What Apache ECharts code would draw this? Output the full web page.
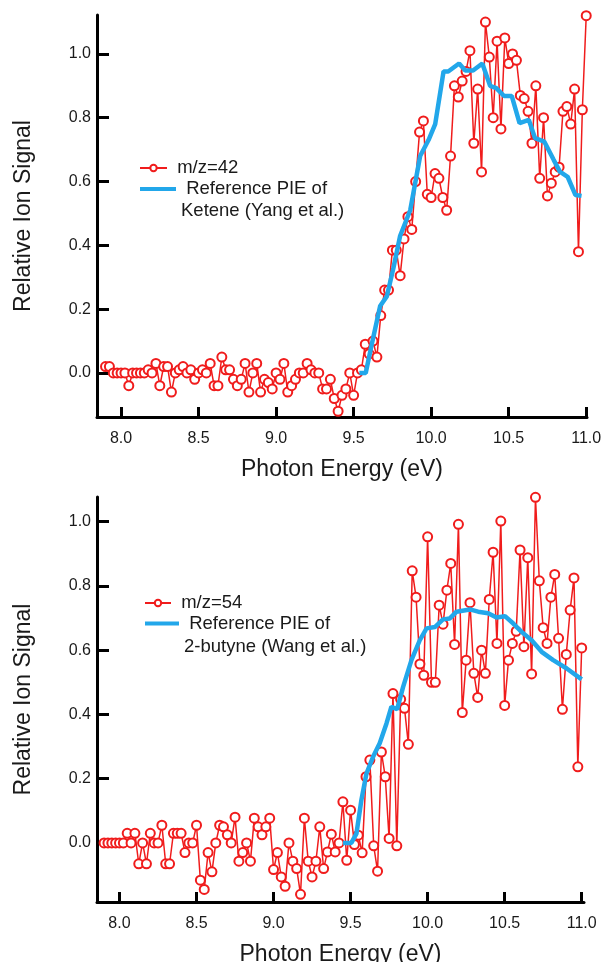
<!DOCTYPE html>
<html>
<head>
<meta charset="utf-8">
<title>Relative Ion Signal</title>
<script src="https://cdn.jsdelivr.net/npm/echarts@6.0.0/dist/echarts.min.js"></script>
<style>
html, body { margin: 0; padding: 0; background: #fff; }
#chart { width: 603px; height: 962px; }
</style>
</head>
<body>
<div id="chart"></div>
<script>
// photon energy scan: first point and step (eV)
const scanStart = 7.9
const scanStep = 0.025

const xTicks = [8.0, 8.5, 9.0, 9.5, 10.0, 10.5, 11.0]
const yTicks = [0.0, 0.2, 0.4, 0.6, 0.8, 1.0]

// m/z=42, one value per scan point
const mz42 = [
	0.02, 0.02, 0, 0, 0, 0, -0.04, 0, 0,
	0, 0, 0.01, 0, 0.03, -0.04, 0.02, 0.02, -0.06, 0, 0.01, 0.02, 0, 0.01, -0.02, 0, 0.01, 0, 0.03, -0.04,
	-0.04, 0.05, 0.01, 0.01, -0.02, -0.04, -0.02, 0.03, -0.06, 0, 0.03, -0.06, -0.02, -0.03, -0.05, 0,
	-0.02, 0.03, -0.06, -0.04, -0.02, 0, 0, 0.03, 0.01, 0, 0, -0.05, -0.05, -0.02, -0.08,
	-0.12, -0.07, -0.05, 0, -0.07, 0, 0.01, 0.09, 0.06, 0.10, 0.05, 0.18, 0.26, 0.26, 0.385, 0.385,
	0.305, 0.42, 0.49, 0.45, 0.60, 0.755, 0.79, 0.56, 0.55, 0.625, 0.61, 0.55, 0.51, 0.68, 0.90, 0.865,
	0.915, 0.945, 1.01, 0.72, 0.89, 0.63, 1.10, 0.99, 0.80, 1.04, 0.765, 1.05, 0.97, 1.0, 0.98, 0.87,
	0.86, 0.82, 0.72, 0.90, 0.61, 0.80, 0.555, 0.595, 0.63, 0.645, 0.82, 0.835, 0.78, 0.89, 0.38, 0.825, 1.12
]

// reference PIE of ketene (Yang et al.)
const keteneEnergy = [9.537, 9.578, 9.617, 9.671, 9.714, 9.757, 9.8, 9.865, 9.929, 9.983, 10.026, 10.08, 10.11, 10.18, 10.22,
	10.27, 10.33, 10.38, 10.42, 10.47, 10.52, 10.57, 10.63, 10.67, 10.73, 10.79, 10.83, 10.88, 10.93, 10.97]
const keteneSignal = [0, 0, 0.09, 0.21, 0.24, 0.33, 0.43, 0.51, 0.68, 0.73, 0.78, 0.945, 0.945, 0.97, 0.948,
	0.948, 0.97, 0.9, 0.893, 0.868, 0.868, 0.783, 0.793, 0.736, 0.725, 0.668, 0.631, 0.615, 0.558, 0.555]

// m/z=54, one value per scan point
const mz54 = [
	0, 0, 0, 0, 0, 0,
	0.03, 0, 0.03, -0.065, 0, -0.065, 0.03, 0, 0, 0.055, -0.065, -0.065, 0.03, 0.03, 0.03, -0.03, 0, 0,
	0.055, -0.116, -0.145, -0.03, -0.09, 0, 0.055, 0.05, 0.025, 0, 0.08, -0.057, -0.03, 0, -0.057, 0.077,
	0.05, 0.025, 0.05, 0.077, -0.083, -0.03, -0.106, -0.135, 0, -0.057, -0.08, -0.16, 0.077, -0.057, -0.106,
	-0.057, 0.05,
	-0.08, -0.028, 0.027, -0.028, 0, 0.128, -0.054, 0.102, -0.005, 0.024, -0.031, 0.206, 0.258, -0.009,
	-0.088, 0.283, 0.206, 0.014, 0.465, -0.009, 0.447, 0.419, 0.307, 0.847, 0.765, 0.557, 0.522, 0.953,
	0.5, 0.5, 0.74, 0.681, 0.787, 0.87, 0.618, 0.992, 0.406, 0.569, 0.748, 0.528, 0.453, 0.6, 0.528,
	0.758, 0.905, 0.621, 1.002, 0.428, 0.569, 0.621, 0.659, 0.912, 0.611, 0.888, 0.526, 1.076, 0.816,
	0.67, 0.621, 0.765, 0.836, 0.637, 0.416, 0.587, 0.725, 0.825, 0.237, 0.607
]

// reference PIE of 2-butyne (Wang et al.)
const butyneEnergy = [9.451, 9.505, 9.538, 9.57, 9.603, 9.646, 9.689, 9.733, 9.765, 9.802, 9.841, 9.895, 9.949, 9.993, 10.047,
	10.1, 10.144, 10.188, 10.274, 10.328, 10.393, 10.447, 10.502, 10.556, 10.61, 10.675, 10.74, 10.815, 10.903, 11.0]
const butyneSignal = [0, 0, 0.029, 0.133, 0.216, 0.268, 0.31, 0.372, 0.424, 0.416, 0.486, 0.569, 0.631, 0.668, 0.672,
	0.696, 0.699, 0.72, 0.727, 0.72, 0.715, 0.702, 0.706, 0.683, 0.657, 0.631, 0.595, 0.569, 0.543, 0.509]

const font = "'Liberation Sans', Arial, sans-serif"
const ink = "#1a1a1a"
const red = "#f01c1c"
const blue = "#22a7ea"

const keteneName = "Reference PIE of Ketene (Yang et al.)"
const butyneName = "Reference PIE of 2-butyne (Wang et al.)"

const scanPoints = values => values.map((v, i) => [+(scanStart + i * scanStep).toFixed(3), v])
const pairs = (xs, ys) => xs.map((x, i) => [x, ys[i]])

const xAxisFor = (gridIndex, min, max) => ({
	type: "value",
	gridIndex: gridIndex,
	min: min,
	max: max,
	name: "Photon Energy (eV)",
	nameLocation: "middle",
	nameGap: 41,
	nameTextStyle: { fontFamily: font, fontSize: 23, color: ink },
	axisLine: { show: true, onZero: false, lineStyle: { color: "#000", width: 3 } },
	axisTick: { show: true, inside: true, length: 10, customValues: xTicks, lineStyle: { color: "#000", width: 3 } },
	axisLabel: { customValues: xTicks, margin: 14, fontFamily: font, fontSize: 16, color: ink, formatter: v => v.toFixed(1) },
	splitLine: { show: false }
})

const yAxisFor = (gridIndex, min, max) => ({
	type: "value",
	gridIndex: gridIndex,
	min: min,
	max: max,
	name: "Relative Ion Signal",
	nameLocation: "middle",
	nameRotate: 90,
	nameGap: 62,
	nameTextStyle: { fontFamily: font, fontSize: 23, color: ink },
	axisLine: { show: true, onZero: false, lineStyle: { color: "#000", width: 3 } },
	axisTick: { show: true, inside: true, length: 12, customValues: yTicks, lineStyle: { color: "#000", width: 3 } },
	axisLabel: { customValues: yTicks, margin: 6, fontFamily: font, fontSize: 16, color: ink, formatter: v => v.toFixed(1) },
	splitLine: { show: false }
})

const legendText = { fontFamily: font, fontSize: 18.5, color: ink, lineHeight: 22 }
// two-line reference label, blue bar lined up with the first line
const refLabel = n => " \n " + n.replace(" of ", " of\n")

const measured = (name, data, axis) => ({
	name: name,
	type: "line",
	xAxisIndex: axis,
	yAxisIndex: axis,
	data: data,
	symbol: "emptyCircle",
	symbolSize: 9,
	showAllSymbol: true,
	lineStyle: { color: red, width: 1.5 },
	itemStyle: { color: red, borderWidth: 2 },
	z: 2
})

const reference = (name, data, axis) => ({
	name: name,
	type: "line",
	xAxisIndex: axis,
	yAxisIndex: axis,
	data: data,
	symbol: "none",
	lineStyle: { color: blue, width: 4.5 },
	itemStyle: { color: blue },
	z: 3
})

let chart = echarts.init(document.getElementById("chart"))

chart.setOption({
	animation: false,
	backgroundColor: "#fff",
	grid: [
		{ left: 97, top: 15, width: 490, height: 402, outerBoundsMode: "none" },
		{ left: 97, top: 497, width: 487, height: 405, outerBoundsMode: "none" }
	],
	xAxis: [xAxisFor(0, 7.845, 11.005), xAxisFor(1, 7.854, 11.015)],
	yAxis: [yAxisFor(0, -0.138, 1.122), yAxisFor(1, -0.184, 1.077)],
	legend: [
		{ data: ["m/z=42"], left: 139, top: 157, padding: 0, itemWidth: 27, itemHeight: 8, selectedMode: false, formatter: n => " " + n, textStyle: legendText },
		{ data: [keteneName], left: 140, top: 156, padding: 0, itemWidth: 36, itemHeight: 4, icon: "rect", selectedMode: false, formatter: refLabel, textStyle: legendText },
		{ data: ["m/z=54"], left: 144, top: 592, padding: 0, itemWidth: 26, itemHeight: 8, selectedMode: false, formatter: n => " " + n, textStyle: legendText },
		{ data: [butyneName], left: 145, top: 589, padding: 0, itemWidth: 34, itemHeight: 4, icon: "rect", selectedMode: false, formatter: refLabel, textStyle: { ...legendText, lineHeight: 23 } }
	],
	series: [
		measured("m/z=42", scanPoints(mz42), 0),
		reference(keteneName, pairs(keteneEnergy, keteneSignal), 0),
		measured("m/z=54", scanPoints(mz54), 1),
		reference(butyneName, pairs(butyneEnergy, butyneSignal), 1)
	]
})
</script>
</body>
</html>
